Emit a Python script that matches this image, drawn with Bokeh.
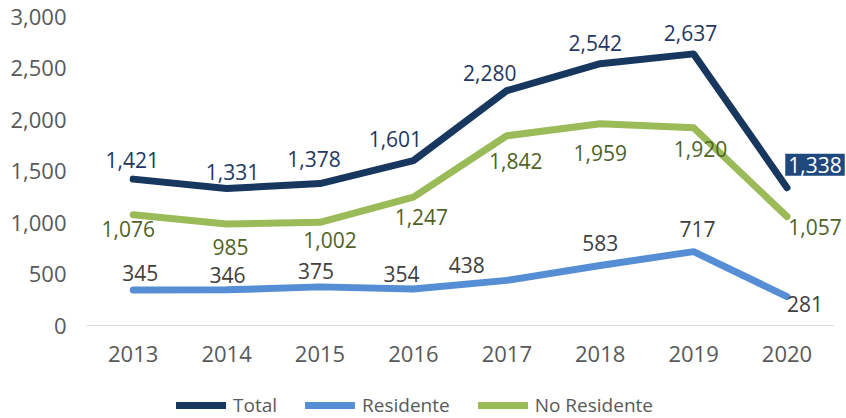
from bokeh.plotting import figure
from bokeh.models import (Range1d, ColumnDataSource, LabelSet, Label, Legend, LegendItem,
                          NumeralTickFormatter, FixedTicker, LinearAxis)
from bokeh.core.properties import value
from bokeh.embed import file_html
from bokeh.resources import INLINE

years = [2013, 2014, 2015, 2016, 2017, 2018, 2019, 2020]
total = [1421, 1331, 1378, 1601, 2280, 2542, 2637, 1338]
residente = [345, 346, 375, 354, 438, 583, 717, 281]
no_residente = [1076, 985, 1002, 1247, 1842, 1959, 1920, 1057]
y_ticks = [0, 500, 1000, 1500, 2000, 2500, 3000]

# label offsets in screen px (dx right, dy up)
total_dx = [-1, 6, -6, -18, -17, -5, -3, 0]
total_dy = [19, 16, 25, 22, 18, 21, 21, 0]
res_dx = [7, 1, -4, -12, -40, 0, 4, 18]
res_dy = [17, 15, 16, 15, 15, 22, 23, -7]
nores_dx = [-5, 4, 10, 8, 9, 0, 7, 28]
nores_dy = [-14, -23, -18, -20, -25, -29, -21, -10]

FONT = "Open Sans"
C_TOTAL = "#17375e"
C_RES = "#558ed5"
C_NORES = "#9bbb59"

# geometry: frame spans from x=86 to the right edge, y=16 to the bottom edge
W, H = 846, 418
LEFT, TOP = 86, 16
PX_PER_YEAR = 93.4
AXIS_PX = 309  # pixels from 0 to 3000
frame_w = W - LEFT
frame_h = H - TOP
y_end = 3000
y_start = -y_end * (frame_h - AXIS_PX) / AXIS_PX
x_start = years[0] - 0.5
x_end = x_start + frame_w / PX_PER_YEAR

p = figure(width=W, height=H, output_backend="svg", toolbar_location=None,
           x_range=Range1d(x_start, x_end), y_range=Range1d(y_start, y_end),
           x_axis_location=None,
           min_border_left=LEFT, min_border_right=0, min_border_top=TOP, min_border_bottom=0)
p.outline_line_color = None
p.xgrid.visible = False
p.ygrid.visible = False
p.background_fill_color = "white"
p.border_fill_color = "white"

p.yaxis.ticker = FixedTicker(ticks=y_ticks)
p.yaxis.formatter = NumeralTickFormatter(format="0,0")
p.yaxis.axis_line_color = None
p.yaxis.major_tick_line_color = None
p.yaxis.minor_tick_line_color = None
p.yaxis.major_label_standoff = 14
p.yaxis.major_label_text_font = FONT
p.yaxis.major_label_text_font_size = "22px"
p.yaxis.major_label_text_color = "#595959"

xaxis = LinearAxis(fixed_location=0, ticker=FixedTicker(ticks=years),
                   bounds=(years[0] - 0.5, years[-1] + 0.5))
xaxis.axis_line_color = "#d9d9d9"
xaxis.major_tick_line_color = None
xaxis.minor_tick_line_color = None
xaxis.major_label_standoff = 14
xaxis.major_label_text_font = FONT
xaxis.major_label_text_font_size = "22px"
xaxis.major_label_text_color = "#595959"
p.add_layout(xaxis, "below")

r_total = p.line(years, total, line_color=C_TOTAL, line_width=7, line_cap="round", line_join="round")
r_res = p.line(years, residente, line_color=C_RES, line_width=7, line_cap="round", line_join="round")
r_nores = p.line(years, no_residente, line_color=C_NORES, line_width=7, line_cap="round", line_join="round")

def add_labels(vals, dx, dy, color, skip_last=False):
    n = len(vals) - (1 if skip_last else 0)
    src = ColumnDataSource(dict(x=years[:n], y=vals[:n], text=[f"{v:,}" for v in vals[:n]],
                                dx=dx[:n], dy=dy[:n]))
    ls = LabelSet(x="x", y="y", text="text", x_offset="dx", y_offset="dy", source=src,
                  text_align="center", text_baseline="middle", text_font=value(FONT),
                  text_font_size="21px", text_color=color)
    p.add_layout(ls)

add_labels(total, total_dx, total_dy, "#1f3864", skip_last=True)
add_labels(residente, res_dx, res_dy, "#404040")
add_labels(no_residente, nores_dx, nores_dy, "#4f6228")

box = Label(x=years[-1], y=total[-1], text=f"{total[-1]:,}", x_offset=28, y_offset=23,
            text_align="center", text_baseline="middle", text_font=FONT, text_font_size="21px",
            text_color="white", background_fill_color="#1f497d", padding=3)
p.add_layout(box)

legend = Legend(items=[LegendItem(label="Total", renderers=[r_total]),
                       LegendItem(label="Residente", renderers=[r_res]),
                       LegendItem(label="No Residente", renderers=[r_nores])],
                orientation="horizontal", location=(90, 0), padding=0, margin=0,
                spacing=28, glyph_width=50, glyph_height=20, label_height=20, label_standoff=7,
                label_text_font=FONT, label_text_font_size="19px", label_text_color="#595959",
                border_line_color=None, background_fill_alpha=0)
p.add_layout(legend)

open("out.html", "w").write(file_html(p, INLINE))
